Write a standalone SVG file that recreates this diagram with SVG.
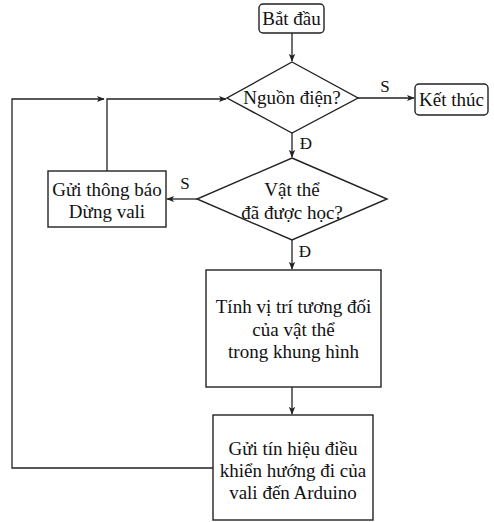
<svg xmlns="http://www.w3.org/2000/svg" width="494" height="522" viewBox="0 0 494 522">
<style>
.s{fill:#fff;stroke:#222;stroke-width:1.4}
.c{fill:none;stroke:#222;stroke-width:1.3}
.t{font-family:"Liberation Serif","Times New Roman",serif;font-size:19px;fill:#111;text-anchor:middle}
.l{font-family:"Liberation Serif","Times New Roman",serif;font-size:17px;fill:#111;text-anchor:middle}
</style>
<defs>
<marker id="a" viewBox="0 0 10 10" refX="9" refY="5" markerWidth="8" markerHeight="8" orient="auto" markerUnits="userSpaceOnUse">
<path d="M0,1 L10,5 L0,9 L2.5,5 Z" fill="#222"/>
</marker>
</defs>
<g id="connectors">
<path class="c" d="M292,33 V61" marker-end="url(#a)"/>
<path class="c" d="M358,98 H414" marker-end="url(#a)"/>
<path class="c" d="M292,133 V157" marker-end="url(#a)"/>
<path class="c" d="M197,199 H167" marker-end="url(#a)"/>
<path class="c" d="M292,240 V269" marker-end="url(#a)"/>
<path class="c" d="M292,387 V414" marker-end="url(#a)"/>
<path class="c" d="M107,171 V99 H226" marker-end="url(#a)"/>
<path class="c" d="M213,468 H12 V99 H104" marker-end="url(#a)"/>
<text class="l" x="385" y="92">S</text>
<text class="l" x="306" y="149">Đ</text>
<text class="l" x="185" y="189">S</text>
<text class="l" x="305" y="257">Đ</text>
</g>
<g id="start">
<rect class="s" x="259" y="4" width="65" height="29" rx="4"/>
<text class="t" x="291.5" y="25">Bắt đầu</text>
</g>
<g id="power">
<path class="s" d="M292,62 L358,98 L292,133 L227,98 Z"/>
<text class="t" x="292" y="104">Nguồn điện?</text>
</g>
<g id="end">
<rect class="s" x="415" y="84" width="73" height="31" rx="4"/>
<text class="t" x="451.5" y="106">Kết thúc</text>
</g>
<g id="learned">
<path class="s" d="M292,158 L387,199 L292,240 L197,199 Z"/>
<text class="t" x="292" y="196">Vật thể</text>
<text class="t" x="292" y="219">đã được học?</text>
</g>
<g id="stop">
<rect class="s" x="48" y="171" width="118" height="56"/>
<text class="t" x="107" y="196">Gửi thông báo</text>
<text class="t" x="107" y="218">Dừng vali</text>
</g>
<g id="compute">
<rect class="s" x="206" y="270" width="175" height="117"/>
<text class="t" x="293.5" y="313">Tính vị trí tương đối</text>
<text class="t" x="293.5" y="336">của vật thể</text>
<text class="t" x="293.5" y="358">trong khung hình</text>
</g>
<g id="send">
<rect class="s" x="213" y="415" width="160" height="105"/>
<text class="t" x="293" y="455">Gửi tín hiệu điều</text>
<text class="t" x="293" y="477">khiển hướng đi của</text>
<text class="t" x="293" y="499">vali đến Arduino</text>
</g>
</svg>
